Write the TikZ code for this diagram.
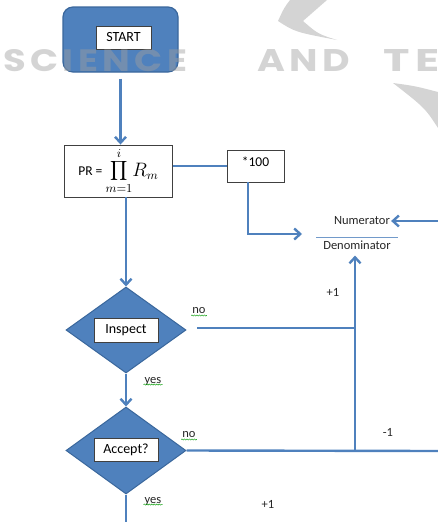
\documentclass[tikz,border=0pt]{standalone}
\usepackage{fontspec}
\setmainfont{Carlito}
\newfontfamily\wmfont{Poppins}[LetterSpace=12]
\usepackage{graphicx}
\usetikzlibrary{shapes.geometric,arrows.meta,decorations.pathmorphing}
\definecolor{flowblue}{HTML}{4F81BD}
\definecolor{edgeblue}{HTML}{3A679C}
\definecolor{boxline}{HTML}{404040}
\definecolor{wmgray}{HTML}{A0A0A0}

\begin{document}
\begin{tikzpicture}[x=1pt,y=-1pt,
    font=\fontsize{12.5}{14}\selectfont,
    flow/.style={draw=flowblue,line width=2.4pt},
    arr/.style={flow,-{Straight Barb[length=6pt,width=11pt,line width=2.4pt]}},
    startbox/.style={draw=edgeblue,line width=1.2pt,fill=flowblue,rounded corners=10pt,
                     minimum width=115pt,minimum height=65pt},
    labelbox/.style={draw=boxline,fill=white,line width=0.8pt,inner sep=0pt,
                     font=\fontsize{14}{16}\selectfont},
    calcbox/.style={draw=boxline,fill=white,line width=0.9pt,inner sep=0pt,
                    font=\fontsize{13.5}{15}\selectfont},
    decision/.style={diamond,aspect=1.4,draw=edgeblue,line width=1pt,fill=flowblue,
                     minimum width=120pt,minimum height=86pt,inner sep=0pt},
    tag/.style={inner sep=1pt,text=black!85},
    squiggle/.style={draw=green!60!black,line width=0.5pt,decorate,
                     decoration={snake,amplitude=0.6pt,segment length=2.5pt}},
    wm/.style={fill=wmgray,fill opacity=0.45},
    wmtext/.style={anchor=south west,inner sep=0pt,text=wmgray,text opacity=0.45}]
\useasboundingbox (0,0) rectangle (438,522);

% boxes
\node[startbox] (start) at (120.5,39.5) {};
\node[labelbox,minimum width=55pt,minimum height=23pt] (startlbl) at (123.5,37.5) {START};
\node[calcbox,minimum width=108pt,minimum height=52pt] (pr) at (118.5,171)
    {PR = \raisebox{-1pt}{\scalebox{1.35}{$\displaystyle\prod_{m=1}^{i}\!R_m$}}};
\node[calcbox,minimum width=57pt,minimum height=32pt,text height=9pt,text depth=9pt]
    (mult) at (255.5,166) {*100};
\node[tag] (num) at (362,221) {Numerator};
\node[tag] (den) at (357,245) {Denominator};
\node[decision] (insp) at (126,330) {};
\node[labelbox,minimum width=64pt,minimum height=24pt] (insplbl) at (126,330) {Inspect};
\node[decision,minimum height=87pt] (acc) at (126,450.5) {};
\node[labelbox,minimum width=64pt,minimum height=23pt] (acclbl) at (126,449.5) {Accept?};

% free ends
\coordinate (fracin)  at (302,234);
\coordinate (numsrc)  at (438,221);
\coordinate (join)    at (355,451);
\coordinate (accout)  at (438,451);
\coordinate (inspout) at (197,328);
\coordinate (exit)    at (126,522);

% labels
\node[tag] (inspno)  at (199,311) {no};
\node[tag] (inspyes) at (153,381) {yes};
\node[tag] (accno)   at (189,435) {no};
\node[tag] (accyes)  at (153,501) {yes};
\node[tag] (plusa)   at (333,292) {+1};
\node[tag] (minus)   at (388,432) {-1};
\node[tag] (plusb)   at (268,504) {+1};
\foreach \w in {inspno,inspyes,accno,accyes}
    \draw[squiggle] ([yshift=-1.5pt]\w.base west) -- ([yshift=-1.5pt]\w.base east);

% fraction bar
\draw[flowblue!80,line width=0.8pt]
    ([xshift=-6pt,yshift=2pt]den.north west) -- ([xshift=6pt,yshift=2pt]den.north east);

% connectors
\draw[arr] ([yshift=-6pt]start.south) -- (start.south |- pr.north);
\draw[flow] (pr.east |- mult.west) -- (mult.west);
\draw[arr] ([xshift=-7.5pt]mult.south) |- (fracin);
\draw[arr] (numsrc) -- (num.east);
\draw[arr,shorten >=5pt] (join) -- (join |- den.south);
\draw[arr] (insp.north |- pr.south) -- (insp.north);
\draw[flow] (inspout) -- (inspout -| join);
\draw[arr] (insp.south) -- (acc.north);
\draw[flow] (acc.east) -- (accout);
\draw[flow] (acc.south) -- (exit);

% watermark
\node[wmtext] (wmscience) at (3,72)   {\resizebox{184pt}{22pt}{\wmfont\bfseries SCIENCE}};
\node[wmtext] (wmand)     at (257,72) {\resizebox{93pt}{22pt}{\wmfont\bfseries AND}};
\node[wmtext] (wmte)      at (383,72) {\resizebox{56pt}{22pt}{\wmfont\bfseries TE}};
\fill[wm] (290,0) .. controls (284,8) .. (278,21) .. controls (295,32) .. (337,40)
    .. controls (318,34) .. (303,21) -- (327,0) -- cycle;
\fill[wm] (393,83) .. controls (415,86) .. (438,92) -- (438,128)
    .. controls (425,108) .. (393,83) -- cycle;
\end{tikzpicture}
\end{document}
